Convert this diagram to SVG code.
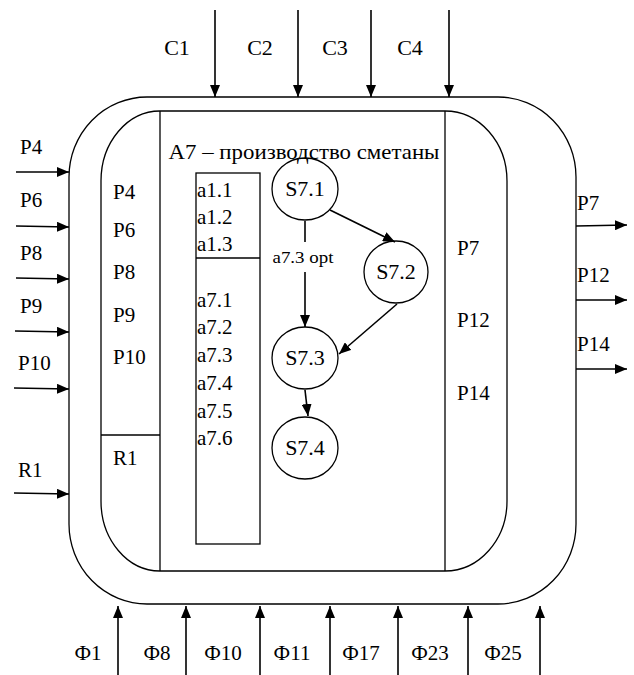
<svg xmlns="http://www.w3.org/2000/svg" width="634" height="675" viewBox="0 0 634 675">
<defs>
<marker id="ah" viewBox="0 0 12 10" refX="12" refY="5" markerWidth="12" markerHeight="10" markerUnits="userSpaceOnUse" orient="auto">
<path d="M0,0 L12,5 L0,10 Z" fill="#000"/>
</marker>
<style>
.c{text-anchor:middle}
.box{fill:none;stroke:#000;stroke-width:1.3}
.arr{stroke:#000;stroke-width:1.6;fill:none;marker-end:url(#ah)}
</style>
</defs>
<rect width="634" height="675" fill="#fff"/>
<g id="outer">
<rect class="box" x="69" y="97" width="507" height="507" rx="78" ry="80"/>
</g>
<g id="inner">
<path class="box" d="M160,111 A59,70 0 0 0 101,181 L101,501 A59,70 0 0 0 160,571 L445,571 A62,70 0 0 0 507,501 L507,181 A62,70 0 0 0 445,111 Z"/>
<line class="box" x1="160" y1="111" x2="160" y2="571"/>
<line class="box" x1="445" y1="111" x2="445" y2="571"/>
</g>
<g id="left-panel">
<line class="box" x1="101" y1="435" x2="160" y2="435"/>
<text font-family="Liberation Serif" font-size="21" x="113" y="199">P4</text>
<text font-family="Liberation Serif" font-size="21" x="113" y="237">P6</text>
<text font-family="Liberation Serif" font-size="21" x="113" y="279">P8</text>
<text font-family="Liberation Serif" font-size="21" x="113" y="322">P9</text>
<text font-family="Liberation Serif" font-size="21" x="113" y="364">P10</text>
<text font-family="Liberation Serif" font-size="21" x="113" y="465">R1</text>
</g>
<g id="right-panel">
<text font-family="Liberation Serif" font-size="21" x="457" y="255">P7</text>
<text font-family="Liberation Serif" font-size="21" x="457" y="327">P12</text>
<text font-family="Liberation Serif" font-size="21" x="457" y="400">P14</text>
</g>
<g id="title">
<text font-family="Liberation Serif" font-size="22" class="c" x="304" y="159" textLength="271" lengthAdjust="spacingAndGlyphs">A7 – производство сметаны</text>
</g>
<g id="a-list">
<rect class="box" x="196" y="173" width="64" height="371"/>
<line class="box" x1="196" y1="258" x2="260" y2="258"/>
<text font-family="Liberation Serif" font-size="21" x="197" y="197">a1.1</text>
<text font-family="Liberation Serif" font-size="21" x="197" y="224">a1.2</text>
<text font-family="Liberation Serif" font-size="21" x="197" y="251">a1.3</text>
<text font-family="Liberation Serif" font-size="21" x="197" y="307">a7.1</text>
<text font-family="Liberation Serif" font-size="21" x="197" y="334">a7.2</text>
<text font-family="Liberation Serif" font-size="21" x="197" y="362">a7.3</text>
<text font-family="Liberation Serif" font-size="21" x="197" y="390">a7.4</text>
<text font-family="Liberation Serif" font-size="21" x="197" y="418">a7.5</text>
<text font-family="Liberation Serif" font-size="21" x="197" y="445">a7.6</text>
</g>
<g id="S7.1">
<ellipse class="box" cx="305" cy="189" rx="33" ry="31"/>
<text font-family="Liberation Serif" font-size="22" class="c" x="305" y="196">S7.1</text>
</g>
<g id="S7.2">
<ellipse class="box" cx="396" cy="272" rx="32" ry="31"/>
<text font-family="Liberation Serif" font-size="22" class="c" x="396" y="279">S7.2</text>
</g>
<g id="S7.3">
<ellipse class="box" cx="305" cy="358" rx="33" ry="31"/>
<text font-family="Liberation Serif" font-size="22" class="c" x="305" y="365">S7.3</text>
</g>
<g id="S7.4">
<ellipse class="box" cx="305" cy="448" rx="33" ry="31"/>
<text font-family="Liberation Serif" font-size="22" class="c" x="305" y="455">S7.4</text>
</g>
<g id="connectors">
<line class="arr" x1="330" y1="210" x2="395" y2="242"/>
<line class="box" x1="305" y1="221" x2="305" y2="242" style="stroke-width:1.6"/>
<line class="arr" x1="305" y1="272" x2="305" y2="327"/>
<text font-family="Liberation Serif" font-size="17" class="c" x="303" y="263" textLength="61" lengthAdjust="spacingAndGlyphs">a7.3 opt</text>
<line class="arr" x1="397" y1="304" x2="339" y2="354"/>
<line class="arr" x1="305" y1="390" x2="308" y2="416"/>
<line class="arr" x1="215" y1="10" x2="215" y2="97"/>
<line class="arr" x1="298" y1="10" x2="298" y2="97"/>
<line class="arr" x1="371" y1="10" x2="371" y2="97"/>
<line class="arr" x1="449" y1="10" x2="449" y2="97"/>
<line class="arr" x1="16" y1="172" x2="69" y2="172"/>
<line class="arr" x1="16" y1="226" x2="69" y2="227"/>
<line class="arr" x1="16" y1="278" x2="69" y2="279"/>
<line class="arr" x1="15" y1="331" x2="69" y2="332"/>
<line class="arr" x1="14" y1="388" x2="69" y2="389"/>
<line class="arr" x1="14" y1="493" x2="69" y2="494"/>
<line class="arr" x1="576" y1="226" x2="627" y2="225"/>
<line class="arr" x1="576" y1="300" x2="627" y2="300"/>
<line class="arr" x1="576" y1="369" x2="627" y2="369"/>
<line class="arr" x1="118" y1="675" x2="118" y2="606"/>
<line class="arr" x1="186" y1="675" x2="186" y2="606"/>
<line class="arr" x1="260" y1="675" x2="260" y2="606"/>
<line class="arr" x1="330" y1="675" x2="330" y2="606"/>
<line class="arr" x1="398" y1="675" x2="398" y2="606"/>
<line class="arr" x1="468" y1="675" x2="468" y2="606"/>
<line class="arr" x1="540" y1="675" x2="540" y2="606"/>
</g>
<g id="labels">
<text font-family="Liberation Serif" font-size="22" class="c" x="177" y="55">C1</text>
<text font-family="Liberation Serif" font-size="22" class="c" x="260" y="55">C2</text>
<text font-family="Liberation Serif" font-size="22" class="c" x="335" y="55">C3</text>
<text font-family="Liberation Serif" font-size="22" class="c" x="410" y="55">C4</text>
<text font-family="Liberation Serif" font-size="21" x="20" y="154">P4</text>
<text font-family="Liberation Serif" font-size="21" x="20" y="207">P6</text>
<text font-family="Liberation Serif" font-size="21" x="20" y="260">P8</text>
<text font-family="Liberation Serif" font-size="21" x="20" y="313">P9</text>
<text font-family="Liberation Serif" font-size="21" x="18" y="370">P10</text>
<text font-family="Liberation Serif" font-size="21" x="18" y="477">R1</text>
<text font-family="Liberation Serif" font-size="21" x="577" y="210">P7</text>
<text font-family="Liberation Serif" font-size="21" x="577" y="282">P12</text>
<text font-family="Liberation Serif" font-size="21" x="577" y="351">P14</text>
<text font-family="Liberation Serif" font-size="21" class="c" x="88" y="660">Ф1</text>
<text font-family="Liberation Serif" font-size="21" class="c" x="157" y="660">Ф8</text>
<text font-family="Liberation Serif" font-size="21" class="c" x="223" y="660">Ф10</text>
<text font-family="Liberation Serif" font-size="21" class="c" x="292" y="660">Ф11</text>
<text font-family="Liberation Serif" font-size="21" class="c" x="361" y="660">Ф17</text>
<text font-family="Liberation Serif" font-size="21" class="c" x="430" y="660">Ф23</text>
<text font-family="Liberation Serif" font-size="21" class="c" x="503" y="660">Ф25</text>
</g>
</svg>
